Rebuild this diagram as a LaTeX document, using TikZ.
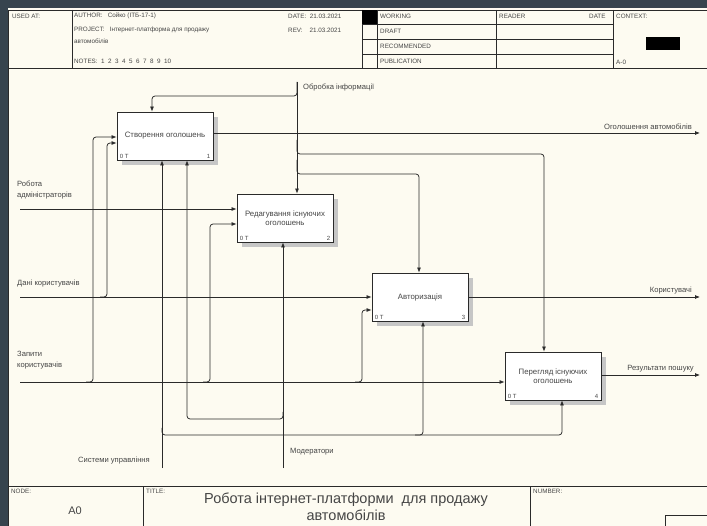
\documentclass[tikz,border=0pt]{standalone}
\usepackage{fontspec}
\setmainfont{Liberation Sans}
\usetikzlibrary{arrows.meta,shadows}
\definecolor{frame}{HTML}{37444E}
\definecolor{paper}{HTML}{FDFBF1}
\definecolor{ink}{HTML}{2A2A2A}
\definecolor{txt}{HTML}{454545}
\begin{document}
\begin{tikzpicture}[x=1pt,y=-1pt,
  every node/.style={inner sep=0pt, text=txt},
  func/.style={draw=ink, fill=white, line width=0.8pt, minimum width=96pt, minimum height=48pt,
    align=center, font=\fontsize{7.8}{9.5}\selectfont,
    drop shadow={shadow xshift=5pt, shadow yshift=-5pt, fill=gray!45, opacity=1}},
  conn/.style={draw=ink, line width=0.75pt, rounded corners=3pt},
  arr/.style={conn, -{Latex[length=5pt,width=4pt]}},
  lbl/.style={font=\fontsize{7.6}{11}\selectfont, align=left},
  hdr/.style={font=\fontsize{6.3}{7}\selectfont, anchor=west},
  tag/.style={font=\fontsize{6}{6.5}\selectfont},
  rule/.style={draw=ink, line width=0.75pt}
]
\useasboundingbox (0,0) rectangle (707,526);
% sheet
\fill[frame] (0,0) rectangle (707,526);
\fill[paper] (8,8) rectangle (707,526);

% header block
\draw[rule] (8,10) -- (707,10) (8,68) -- (707,68) (8,10) -- (8,486);
\draw[rule] (72,10) -- (72,68) (362,10) -- (362,68) (377,10) -- (377,68)
  (496,10) -- (496,68) (613,10) -- (613,68);
\draw[rule] (362,24) -- (613,24) (362,39) -- (613,39) (362,54) -- (613,54);
\fill[black] (362,10) rectangle (377,24);
\fill[black] (646,37) rectangle (680,50);
\node[hdr] at (12,16) {USED AT:};
\node[hdr] at (74,16) {AUTHOR:\ \ \ Сойко (ІТБ-17-1)};
\node[hdr] at (74,30) {PROJECT:\ \ \ Інтернет-платформа для продажу};
\node[hdr] at (74,41) {автомобілів};
\node[hdr] at (74,61) {NOTES:\ \ 1\ \ 2\ \ 3\ \ 4\ \ 5\ \ 6\ \ 7\ \ 8\ \ 9\ \ 10};
\node[hdr] at (288,16) {DATE:\ \ 21.03.2021};
\node[hdr] at (288,30) {REV:\ \ \ \ 21.03.2021};
\node[hdr] at (380,16) {WORKING};
\node[hdr] at (380,31) {DRAFT};
\node[hdr] at (380,46) {RECOMMENDED};
\node[hdr] at (380,61) {PUBLICATION};
\node[hdr] at (499,16) {READER};
\node[hdr] at (589,16) {DATE};
\node[hdr] at (616,16) {CONTEXT:};
\node[hdr] at (616,62) {A-0};

% footer block
\draw[rule] (8,486) -- (707,486) (8,486) -- (8,526) (143,486) -- (143,526) (530,486) -- (530,526);
\draw[rule] (665,526) -- (665,515) -- (707,515);
\node[hdr] at (11,491) {NODE:};
\node[font=\fontsize{11}{13}\selectfont] at (75,511) {A0};
\node[hdr] at (146,491) {TITLE:};
\node[font=\fontsize{14.5}{17}\selectfont, align=center] at (346,507)
  {Робота інтернет-платформи\ \ для продажу\\автомобілів};
\node[hdr] at (533,491) {NUMBER:};

% activities
\node[func] (b1) at (165,136) {Створення оголошень};
\node[func] (b2) at (285,218) {Редагування існуючих\\оголошень};
\node[func] (b3) at (420,297) {Авторизація};
\node[func] (b4) at (553,376) {Перегляд існуючих\\оголошень};
\foreach \b/\n in {b1/1,b2/2,b3/3,b4/4}{
  \node[tag, anchor=south west] at ([shift={(3pt,2pt)}]\b.south west) {0 Т};
  \node[tag, anchor=south east] at ([shift={(-3pt,2pt)}]\b.south east) {\n};
}

% control
\coordinate (ctl) at (297,82);
\draw[arr] (ctl) -- (ctl |- b2.north);
\draw[arr] (ctl) -- (297,96) -| (b1.north -| 152,0);
\draw[arr] (297,140) |- (544,154) -- (b4.north -| 544,0);
\draw[arr] (297,160) |- (419,174) -- (b3.north -| 419,0);
\node[lbl, anchor=west] at (303,88) {Обробка інформації};

% outputs
\coordinate (o1) at (700,133);
\coordinate (o3) at (700,297);
\coordinate (o4) at (700,375);
\draw[arr] (b1.east |- o1) -- (o1);
\draw[arr] (b3.east |- o3) -- (o3);
\draw[arr] (b4.east |- o4) -- (o4);
\node[lbl, anchor=south east] at (692,130) {Оголошення автомобілів};
\node[lbl, anchor=south east] at (692,294) {Користувачі};
\node[lbl, anchor=south east] at (694,372) {Результати пошуку};

% inputs
\coordinate (i2) at (20,209);
\coordinate (i3) at (20,297);
\coordinate (i4) at (20,382);
\draw[arr] (i2) -- (b2.west |- i2);
\draw[arr] (i3) -- (b3.west |- i3);
\draw[arr] (i4) -- (b4.west |- i4);
\draw[arr] (86,382) -| (93,137) -- (b1.west |- 0,137);
\draw[arr] (100,297) -| (107,143) -- (b1.west |- 0,143);
\draw[arr] (203,382) -| (210,224) -- (b2.west |- 0,224);
\draw[arr] (355,382) -| (362,310) -- (b3.west |- 0,310);
\node[lbl, anchor=south west] at (17,199) {Робота\\адміністраторів};
\node[lbl, anchor=south west] at (17,287) {Дані користувачів};
\node[lbl, anchor=south west] at (17,369) {Запити\\користувачів};

% mechanisms
\coordinate (m1) at (162,468);
\coordinate (m2) at (283,468);
\draw[arr] (m1) -- (m1 |- b1.south);
\draw[arr] (162,428) |- (562,435) -- (b4.south -| 562,0);
\draw[arr] (415,435) -| (b3.south -| 423,0);
\draw[arr] (m2) -- (m2 |- b2.south);
\draw[arr] (283,412) |- (187,419) -- (b1.south -| 187,0);
\node[lbl, anchor=east] at (150,461) {Системи управління};
\node[lbl, anchor=west] at (290,452) {Модератори};
\end{tikzpicture}
\end{document}
